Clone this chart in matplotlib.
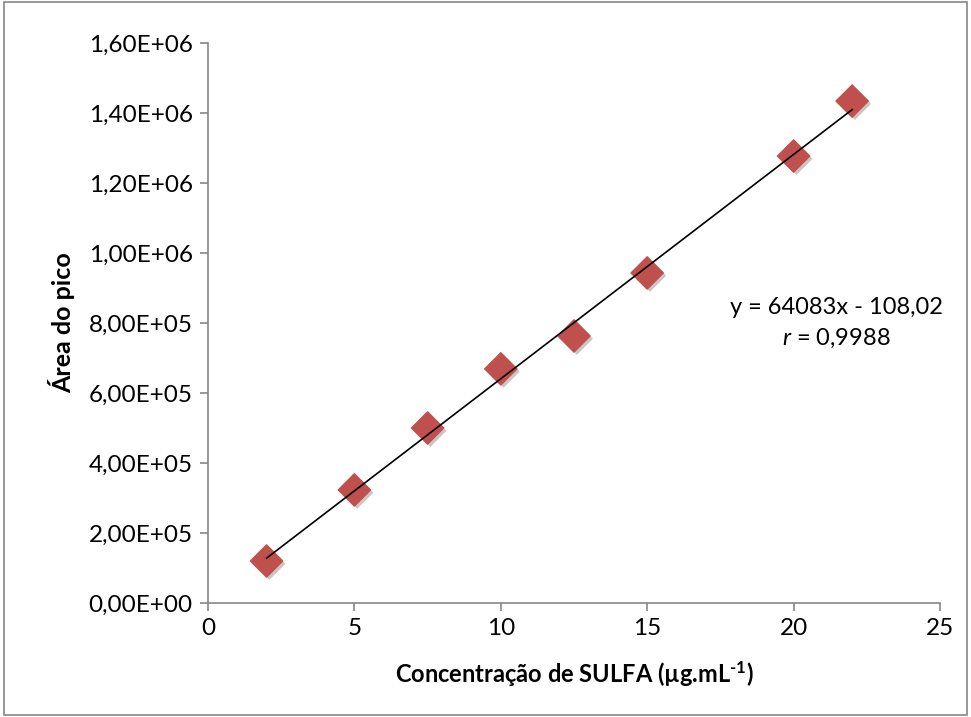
import numpy as np
import matplotlib.pyplot as plt
import matplotlib.patheffects as pe
from matplotlib.ticker import FuncFormatter

plt.rcParams["font.family"] = ["Lato", "DejaVu Sans"]
plt.rcParams["mathtext.fontset"] = "custom"
plt.rcParams["mathtext.rm"] = "Lato:bold"
plt.rcParams["mathtext.it"] = "Lato:italic"
plt.rcParams["mathtext.bf"] = "Lato:bold"

conc = np.array([2, 5, 7.5, 10, 12.5, 15, 20, 22])
area = np.array([1.20e5, 3.23e5, 5.00e5, 6.69e5, 7.63e5, 9.43e5, 1.277e6, 1.434e6])

slope = 64083
intercept = -108.02
eq_text = "y = 64083x - 108,02"

fig = plt.figure(figsize=(9.71, 7.17), dpi=100)
ax = fig.add_axes([208 / 971, 1 - 603 / 717, 732 / 971, 560 / 717])

ax.scatter(conc, area, marker="D", s=270, color="#C0504D", zorder=3,
           path_effects=[pe.SimplePatchShadow(offset=(2, -2), alpha=0.25), pe.Normal()])

xs = np.array([conc.min(), conc.max()])
ax.plot(xs, slope * xs + intercept, color="black", lw=1.2, zorder=4)

ax.set_xlim(0, 25)
ax.set_ylim(0, 1.6e6)
ax.set_xticks(np.arange(0, 26, 5))
ax.set_yticks(np.arange(0, 1.61e6, 2e5))

def sci(v, pos):
    return "{:.2E}".format(v).replace(".", ",")
ax.yaxis.set_major_formatter(FuncFormatter(sci))

for s in ["top", "right"]:
    ax.spines[s].set_visible(False)
for s in ["left", "bottom"]:
    ax.spines[s].set_color("#868686")
    ax.spines[s].set_linewidth(1.2)
ax.tick_params(axis="both", colors="#868686", length=6, width=1.2, labelsize=17.5,
               labelcolor="black", pad=5)

ax.set_xlabel("Concentração de SULFA (µg.mL$^{\\text{-1}}$)", fontsize=17,
              fontweight="bold", labelpad=14)
ax.set_ylabel("Área do pico", fontsize=18, fontweight="bold", labelpad=10)

ax.text(0.858, 0.527, eq_text, transform=ax.transAxes, ha="center", va="center", fontsize=17)
ax.text(0.858, 0.473, "$r$ = 0,9988", transform=ax.transAxes, ha="center", va="center",
        fontsize=17)

border = plt.Rectangle((0.004, 0.003), 0.992, 0.994, transform=fig.transFigure,
                       fill=False, edgecolor="#868686", lw=1.2)
fig.patches.append(border)

fig.savefig("out.png", dpi=100)
